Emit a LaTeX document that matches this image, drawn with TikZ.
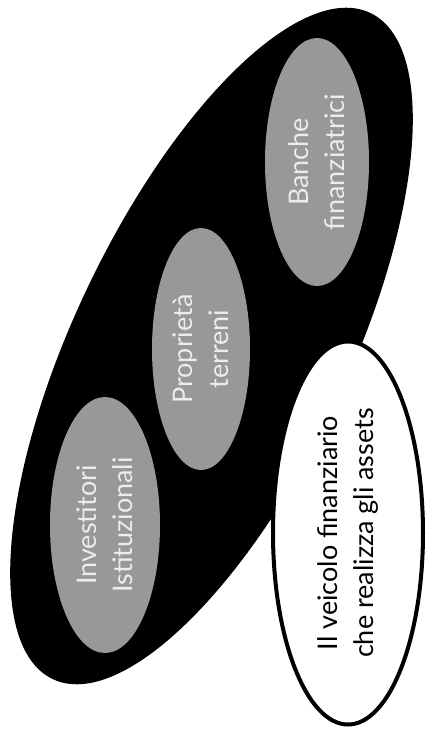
\documentclass[tikz,border=0pt]{standalone}
\usepackage{fontspec}
\setmainfont{Lato}
\usetikzlibrary{shapes.geometric}
\definecolor{ellgray}{RGB}{152,152,152}
\definecolor{txtlight}{RGB}{236,236,236}
\tikzset{
  grayell/.style={ellipse, fill=ellgray, inner sep=0pt, rotate=90, align=center,
    text=txtlight, font=\fontsize{27}{36}\selectfont},
  bigell/.style={ellipse, fill=black, inner sep=0pt},
  whiteell/.style={ellipse, draw=black, line width=4pt, fill=white, inner sep=0pt,
    rotate=90, align=center, font=\fontsize{27}{36}\selectfont}
}
\begin{document}
\begin{tikzpicture}[x=1pt,y=-1pt]
\fill[white] (0,0) rectangle (429,734);
\useasboundingbox (0,0) rectangle (429,734);
\node[bigell, minimum width=738pt, minimum height=274pt, rotate=64.5] (big) at (211.5,346) {};
\node[grayell, minimum width=248pt, minimum height=104pt] (banche) at (317,162) {Banche\\finanziatrici};
\node[grayell, minimum width=242pt, minimum height=98pt] (prop) at (201,349) {Proprietà\\terreni};
\node[grayell, minimum width=256pt, minimum height=110pt] (inv) at (105,525) {Investitori\\Istituzionali};
\node[whiteell, minimum width=383pt, minimum height=150pt] (veicolo) at (348,533) {Il veicolo finanziario\\che realizza gli assets};
\end{tikzpicture}
\end{document}
